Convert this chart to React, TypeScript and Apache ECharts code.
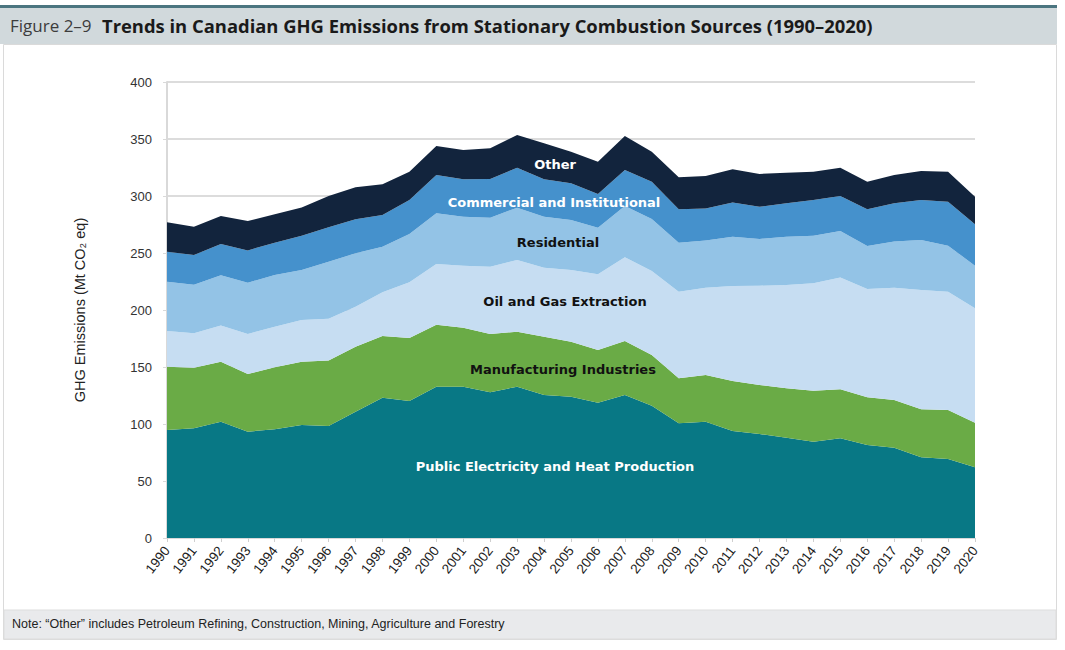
import React, { useEffect, useRef } from "react";
import * as echarts from "echarts";

const years = [
  "1990", "1991", "1992", "1993", "1994", "1995", "1996", "1997", "1998", "1999",
  "2000", "2001", "2002", "2003", "2004", "2005", "2006", "2007", "2008", "2009",
  "2010", "2011", "2012", "2013", "2014", "2015", "2016", "2017", "2018", "2019", "2020",
];

const publicElectricity = [
  94.7, 96.2, 102.0, 93.3, 95.3, 99.1, 98.2, 110.8, 123.1, 120.2,
  132.7, 132.7, 127.8, 132.7, 125.4, 124.0, 118.7, 125.4, 116.1, 100.6,
  102.0, 93.9, 91.2, 88.0, 84.5, 87.4, 81.6, 79.2, 70.8, 69.3, 62.0,
];
const manufacturing = [
  55.6, 53.2, 52.7, 50.6, 54.4, 55.6, 57.4, 57.0, 54.1, 55.2,
  54.4, 51.8, 51.1, 48.3, 51.2, 48.2, 46.2, 47.4, 44.4, 39.5,
  41.0, 43.8, 43.0, 43.3, 44.7, 43.0, 41.8, 41.9, 42.1, 43.0, 39.2,
];
const oilAndGas = [
  31.3, 30.1, 31.6, 35.0, 35.7, 36.5, 36.8, 35.1, 38.3, 48.9,
  53.3, 54.4, 59.1, 62.9, 60.5, 62.9, 66.4, 73.4, 73.7, 76.0,
  76.5, 83.3, 87.1, 90.6, 94.2, 98.0, 95.0, 98.5, 104.6, 103.8, 100.3,
];
const residential = [
  43.2, 42.7, 44.1, 45.1, 45.3, 43.9, 50.0, 46.8, 40.0, 42.4,
  44.4, 43.0, 43.0, 45.9, 44.8, 43.9, 40.9, 45.0, 45.6, 42.9,
  41.5, 43.3, 41.0, 42.4, 41.8, 40.9, 37.7, 40.4, 43.9, 40.3, 37.4,
];
const commercial = [
  26.4, 26.0, 27.5, 28.3, 28.3, 30.1, 30.1, 29.8, 27.8, 29.8,
  33.6, 32.7, 34.0, 35.0, 32.7, 32.1, 29.6, 31.6, 32.8, 29.3,
  28.1, 30.1, 28.3, 29.3, 31.3, 30.7, 32.2, 33.6, 35.1, 38.6, 36.3,
];
const other = [
  25.7, 24.9, 24.6, 25.8, 25.0, 24.8, 27.5, 28.1, 27.0, 24.8,
  25.5, 25.8, 26.8, 28.7, 31.6, 27.8, 28.3, 29.8, 26.3, 28.1,
  28.4, 29.0, 28.7, 26.9, 24.8, 24.8, 24.3, 24.8, 25.5, 26.3, 24.2,
];

const seriesNames = [
  "Public Electricity and Heat Production",
  "Manufacturing Industries",
  "Oil and Gas Extraction",
  "Residential",
  "Commercial and Institutional",
  "Other",
];
const seriesColors = ["#087885", "#6aab46", "#c6ddf2", "#93c3e6", "#4591cc", "#12243d"];
const seriesData = [publicElectricity, manufacturing, oilAndGas, residential, commercial, other];
const labelColors = ["#ffffff", "#111111", "#111111", "#111111", "#ffffff", "#ffffff"];

const yTicks = [0, 50, 100, 150, 200, 250, 300, 350, 400];

const titleLight = "Figure 2–9";
const titleBold = "Trends in Canadian GHG Emissions from Stationary Combustion Sources (1990–2020)";
const noteText = "Note: “Other” includes Petroleum Refining, Construction, Mining, Agriculture and Forestry";
const yAxisTitle = "GHG Emissions (Mt CO₂ eq)";

// label anchor positions (pixel) for in-area series labels
const labelPos = [
  [555, 466],
  [563, 369],
  [565, 301],
  [558, 242],
  [554, 202],
  [555, 164],
];

export default function App() {
  const ref = useRef<HTMLDivElement>(null);
  useEffect(() => {
    document.body.style.margin = "0";
    if (!ref.current) return;
    const chart = echarts.init(ref.current, null, { renderer: "svg" });
    const font = "'Liberation Sans', Arial, sans-serif";
    chart.setOption({
      animation: false,
      backgroundColor: "#ffffff",
      grid: { left: 167, right: 90, top: 82, bottom: 112, containLabel: false },
      xAxis: {
        type: "category",
        data: years,
        boundaryGap: false,
        axisLine: { show: true, lineStyle: { color: "#d9d9d9", width: 1 } },
        axisTick: { show: true, alignWithLabel: true, length: 4, lineStyle: { color: "#cfcfcf" } },
        axisLabel: {
          interval: 0,
          rotate: 52,
          color: "#222",
          fontSize: 13.5,
          fontFamily: font,
          margin: 10,
        },
        splitLine: { show: false },
      },
      yAxis: {
        type: "value",
        min: yTicks[0],
        max: yTicks[yTicks.length - 1],
        interval: 50,
        name: yAxisTitle,
        nameLocation: "middle",
        nameRotate: 90,
        nameGap: 80,
        nameTextStyle: { color: "#222", fontSize: 14.5, fontFamily: font },
        axisLine: { show: true, lineStyle: { color: "#d9d9d9", width: 2 } },
        axisTick: { show: true, length: 4, lineStyle: { color: "#d9d9d9" } },
        axisLabel: { color: "#333", fontSize: 13, fontFamily: font, margin: 15 },
        splitLine: { show: true, lineStyle: { color: "#dcdcdc", width: 2 } },
      },
      series: seriesNames.map((name, i) => ({
        name,
        type: "line",
        stack: "total",
        data: seriesData[i],
        symbol: "none",
        smooth: false,
        lineStyle: { width: 0, color: seriesColors[i] },
        areaStyle: { color: seriesColors[i], opacity: 1 },
        itemStyle: { color: seriesColors[i] },
        z: 2,
      })),
      graphic: [
        // header band
        { type: "rect", left: 0, top: 5, shape: { width: 1057, height: 3 }, style: { fill: "#4b7580" }, silent: true },
        { type: "rect", left: 0, top: 8, shape: { width: 1057, height: 36 }, style: { fill: "#d1d9dc" }, silent: true },
        // outer border
        { type: "rect", shape: { x: 3.5, y: 44.5, width: 1053, height: 595 }, style: { fill: "none", stroke: "#dadada", lineWidth: 1 }, silent: true },
        // note band
        { type: "rect", shape: { x: 4, y: 610, width: 1052, height: 29 }, style: { fill: "#e9eaec", stroke: "#dddddd", lineWidth: 1 }, silent: true },
        {
          type: "text",
          x: 10,
          y: 25,
          style: { text: titleLight, fill: "#3c3c3c", font: "normal 17px 'Open Sans', sans-serif", verticalAlign: "middle" },
        },
        {
          type: "text",
          x: 102,
          y: 25,
          style: { text: titleBold, fill: "#1a1a1a", font: "bold 18.4px 'Open Sans', sans-serif", verticalAlign: "middle" },
        },
        {
          type: "text",
          x: 12,
          y: 624,
          style: { text: noteText, fill: "#222", font: "normal 12.5px 'Liberation Sans', Arial, sans-serif", verticalAlign: "middle" },
        },
        ...seriesNames.map((name, i) => ({
          type: "text",
          x: labelPos[i][0],
          y: labelPos[i][1],
          z: 10,
          style: {
            text: name,
            fill: labelColors[i],
            font: "bold 13px 'DejaVu Sans', sans-serif",
            align: "center",
            verticalAlign: "middle",
          },
        })),
      ],
    });
    return () => chart.dispose();
  }, []);
  return <div ref={ref} style={{ width: 1065, height: 650 }} />;
}
